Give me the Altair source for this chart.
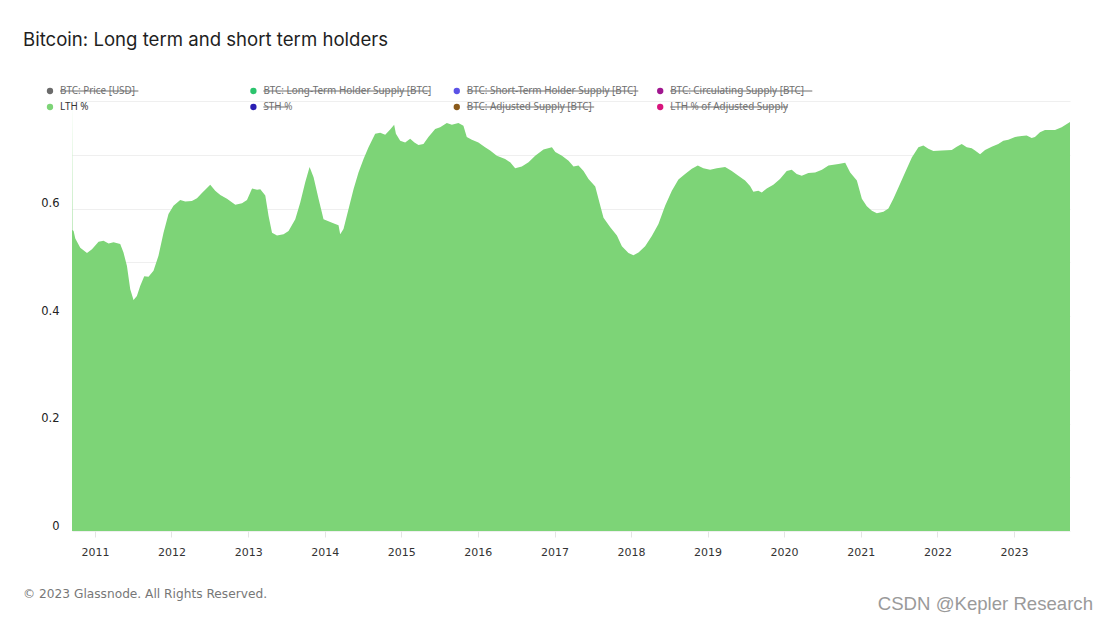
import altair as alt
import pandas as pd

# ---- data (decimal years, LTH share) ----
years = [
    2010.700, 2010.706, 2010.721, 2010.743, 2010.808, 2010.896, 2010.961, 2011.047, 2011.112, 2011.178,
    2011.243, 2011.330, 2011.373, 2011.418, 2011.461, 2011.504, 2011.548, 2011.591, 2011.644, 2011.700,
    2011.765, 2011.830, 2011.896, 2011.961, 2012.026, 2012.114, 2012.179, 2012.266, 2012.332, 2012.397,
    2012.505, 2012.570, 2012.636, 2012.723, 2012.832, 2012.919, 2012.984, 2013.050, 2013.115, 2013.158,
    2013.223, 2013.266, 2013.311, 2013.376, 2013.462, 2013.527, 2013.615, 2013.680, 2013.745, 2013.802,
    2013.854, 2013.919, 2013.984, 2014.072, 2014.137, 2014.180, 2014.202, 2014.245, 2014.311, 2014.376,
    2014.441, 2014.507, 2014.572, 2014.659, 2014.725, 2014.790, 2014.855, 2014.907, 2014.930, 2014.986,
    2015.051, 2015.116, 2015.172, 2015.225, 2015.290, 2015.355, 2015.443, 2015.508, 2015.595, 2015.661,
    2015.747, 2015.812, 2015.856, 2015.922, 2016.008, 2016.095, 2016.161, 2016.248, 2016.356, 2016.422,
    2016.487, 2016.574, 2016.661, 2016.748, 2016.856, 2016.966, 2017.010, 2017.097, 2017.183, 2017.248,
    2017.313, 2017.379, 2017.444, 2017.532, 2017.598, 2017.640, 2017.728, 2017.815, 2017.880, 2017.966,
    2018.031, 2018.097, 2018.184, 2018.271, 2018.358, 2018.445, 2018.533, 2018.619, 2018.706, 2018.794,
    2018.872, 2018.945, 2019.033, 2019.120, 2019.229, 2019.316, 2019.402, 2019.490, 2019.555, 2019.598,
    2019.663, 2019.708, 2019.773, 2019.859, 2019.946, 2020.034, 2020.099, 2020.164, 2020.230, 2020.316,
    2020.404, 2020.493, 2020.578, 2020.708, 2020.796, 2020.861, 2020.948, 2021.013, 2021.078, 2021.144,
    2021.209, 2021.295, 2021.360, 2021.425, 2021.491, 2021.578, 2021.666, 2021.752, 2021.817, 2021.882,
    2021.948, 2022.058, 2022.188, 2022.253, 2022.318, 2022.384, 2022.449, 2022.492, 2022.558, 2022.623,
    2022.710, 2022.796, 2022.862, 2022.927, 2023.015, 2023.102, 2023.167, 2023.232, 2023.275, 2023.341,
    2023.406, 2023.537, 2023.624, 2023.733,
]

lth_pct = [
    0.800, 0.560, 0.558, 0.544, 0.527, 0.517, 0.524, 0.538, 0.540, 0.535,
    0.537, 0.534, 0.518, 0.493, 0.450, 0.430, 0.437, 0.456, 0.474, 0.473,
    0.484, 0.512, 0.555, 0.590, 0.605, 0.616, 0.613, 0.614, 0.619, 0.629,
    0.644, 0.633, 0.625, 0.618, 0.607, 0.610, 0.616, 0.637, 0.635, 0.636,
    0.624, 0.586, 0.555, 0.550, 0.552, 0.558, 0.580, 0.611, 0.649, 0.677,
    0.658, 0.618, 0.580, 0.575, 0.571, 0.569, 0.552, 0.562, 0.599, 0.636,
    0.667, 0.692, 0.714, 0.739, 0.741, 0.737, 0.747, 0.756, 0.739, 0.726,
    0.723, 0.730, 0.723, 0.718, 0.720, 0.733, 0.748, 0.751, 0.759, 0.756,
    0.759, 0.754, 0.733, 0.728, 0.723, 0.714, 0.708, 0.698, 0.692, 0.686,
    0.675, 0.678, 0.686, 0.698, 0.710, 0.714, 0.705, 0.698, 0.689, 0.678,
    0.680, 0.670, 0.655, 0.641, 0.605, 0.583, 0.565, 0.550, 0.530, 0.517,
    0.513, 0.518, 0.530, 0.549, 0.571, 0.605, 0.633, 0.654, 0.664, 0.674,
    0.680, 0.675, 0.672, 0.675, 0.677, 0.670, 0.661, 0.652, 0.642, 0.631,
    0.633, 0.630, 0.637, 0.644, 0.655, 0.670, 0.672, 0.664, 0.661, 0.666,
    0.667, 0.672, 0.680, 0.683, 0.685, 0.667, 0.652, 0.618, 0.604, 0.596,
    0.591, 0.594, 0.600, 0.618, 0.639, 0.667, 0.695, 0.714, 0.717, 0.711,
    0.707, 0.708, 0.709, 0.715, 0.720, 0.714, 0.712, 0.708, 0.701, 0.709,
    0.715, 0.720, 0.726, 0.728, 0.733, 0.735, 0.736, 0.731, 0.733, 0.742,
    0.746, 0.746, 0.751, 0.761,
]
assert len(years) == len(lth_pct)

y_ticks = [0, 0.1, 0.2, 0.3, 0.4, 0.5, 0.6, 0.7, 0.8]
y_labels_shown = [0, 0.2, 0.4, 0.6]

legend_labels = [
    "BTC: Price [USD]", "BTC: Long-Term Holder Supply [BTC]",
    "BTC: Short-Term Holder Supply [BTC]", "BTC: Circulating Supply [BTC]",
    "LTH %", "STH %", "BTC: Adjusted Supply [BTC]", "LTH % of Adjusted Supply",
]
legend_colors = [
    "#6b6b6b", "#2bc46d", "#5b52e6", "#a0168f",
    "#7dd477", "#2a1fb3", "#8a5a1a", "#d8157d",
]
legend_active = [False, False, False, False, True, False, False, False]

title_text = "Bitcoin: Long term and short term holders"
footer_text = "© 2023 Glassnode. All Rights Reserved."
watermark_text = "CSDN @Kepler Research"

AREA_COLOR = "#7dd477"


def to_ts(t):
    y = int(t)
    start = pd.Timestamp(year=y, month=1, day=1)
    end = pd.Timestamp(year=y + 1, month=1, day=1)
    return (start + (end - start) * (t - y)).strftime("%Y-%m-%dT%H:%M:%S")


df = pd.DataFrame({"date": [to_ts(t) for t in years], "lth": lth_pct})

area = alt.Chart(df).mark_area(color=AREA_COLOR, interpolate="linear", clip=True).encode(
    x=alt.X(
        "date:T",
        title=None,
        scale=alt.Scale(nice=False),
        axis=alt.Axis(
            format="%Y",
            tickCount={"interval": "year", "step": 1},
            grid=False,
            domain=False,
            ticks=True,
            tickColor="#e4e4e4",
            tickSize=6,
            labelPadding=9,
            labelFont="DejaVu Sans",
            labelFontSize=11,
            labelColor="#333333",
        ),
    ),
    y=alt.Y(
        "lth:Q",
        title=None,
        scale=alt.Scale(domain=[0, 0.8], nice=False),
        axis=alt.Axis(
            values=y_ticks,
            format=".1~f",
            labelExpr="indexof(" + str(y_labels_shown) + ", datum.value) >= 0 ? datum.label : ''",
            grid=True,
            gridColor="#efefef",
            gridWidth=1,
            domain=False,
            ticks=False,
            tickSize=0,
            labelPadding=13,
            labelBaseline="alphabetic",
            labelOffset=-2,
            labelFont="DejaVu Sans",
            labelFontSize=11.5,
            labelColor="#222222",
        ),
    ),
)

# legend
leg = pd.DataFrame({
    "label": legend_labels,
    "color": legend_colors,
    "active": legend_active,
    "idx": list(range(len(legend_labels))),
})
leg_base = alt.Chart(leg).transform_calculate(
    col="datum.idx % 4",
    row="floor(datum.idx / 4)",
).transform_calculate(
    dot_x="-22 + datum.col * 203.4",
    text_x="-12 + datum.col * 203.4",
    py="-10 + datum.row * 16",
    end_x="-12 + datum.col * 203.4 + length(datum.label) * 4.9",
    tcolor="datum.active ? '#333333' : '#6f6f6f'",
)
leg_dots = leg_base.mark_circle(size=40, opacity=1).encode(
    x=alt.X("dot_x:Q", scale=None, axis=None),
    y=alt.Y("py:Q", scale=None, axis=None),
    color=alt.Color("color:N", scale=None, legend=None),
)
leg_text = leg_base.mark_text(align="left", baseline="middle", font="Noto Sans", fontSize=9.9).encode(
    x=alt.X("text_x:Q", scale=None, axis=None),
    y=alt.Y("py:Q", scale=None, axis=None),
    text="label:N",
    color=alt.Color("tcolor:N", scale=None, legend=None),
)
leg_strike = leg_base.transform_filter("!datum.active").mark_rule(color="#6f6f6f", strokeWidth=1).encode(
    x=alt.X("text_x:Q", scale=None, axis=None),
    x2="end_x:Q",
    y=alt.Y("py:Q", scale=None, axis=None),
)

one = pd.DataFrame({"t": [title_text], "f": [footer_text], "w": [watermark_text]})
title_mark = alt.Chart(one).mark_text(
    align="left", baseline="middle", font="Inter", fontSize=18.6, color="#1f1f1f"
).encode(x=alt.value(-49), y=alt.value(-61), text="t:N")
footer_mark = alt.Chart(one).mark_text(
    align="left", baseline="middle", font="DejaVu Sans", fontSize=12.2, color="#777777"
).encode(x=alt.value(-49), y=alt.value(493), text="f:N")
water_mark = alt.Chart(one).mark_text(
    align="right", baseline="middle", font="Liberation Sans", fontSize=18.6, color="#9a9a9a"
).encode(x=alt.value(1021), y=alt.value(503), text="w:N")

chart = alt.layer(
    area, leg_dots, leg_strike, leg_text, title_mark, footer_mark, water_mark
).resolve_scale(
    x="independent", y="independent", color="independent"
).properties(
    width=998,
    height=430,
    autosize=alt.AutoSizeParams(type="none"),
    padding={"left": 64, "top": 93, "right": 30, "bottom": 85},
    background="white",
).configure_view(stroke=None)

chart.save("out.html", embed_options={"renderer": "svg", "actions": False})
